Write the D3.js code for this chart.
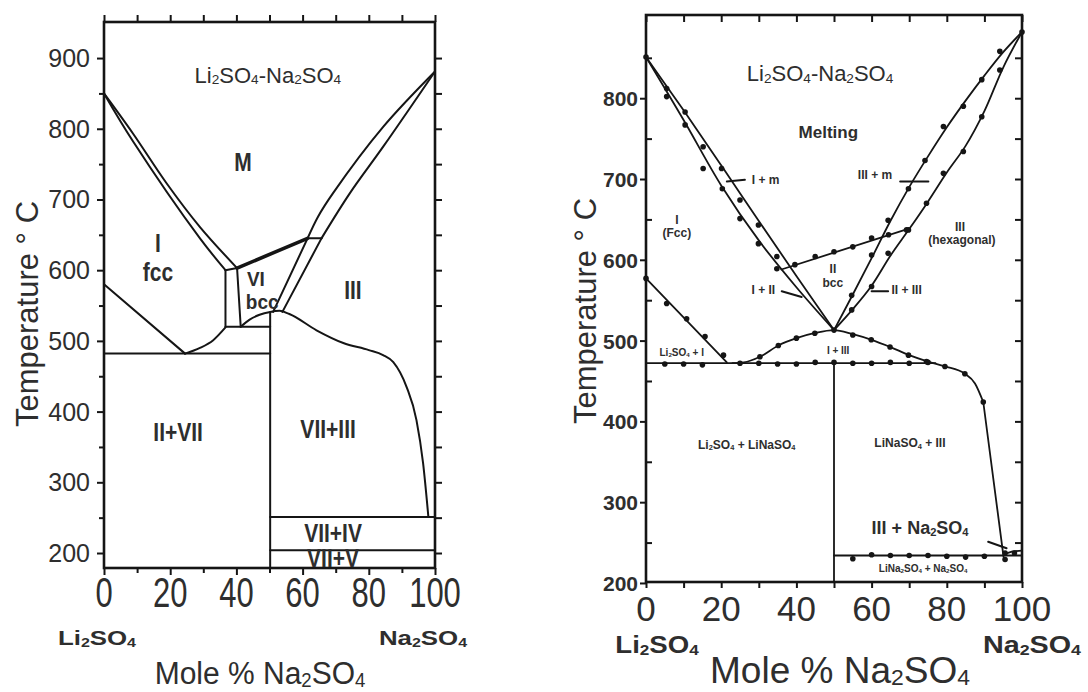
<!DOCTYPE html>
<meta charset="utf-8">
<script src="https://cdn.jsdelivr.net/npm/d3@7"></script>
<style>
  body { margin: 0; background: #fff; }
  svg text { fill: #2e2e2e; }
  .ph { fill: none; stroke: #151515; stroke-width: 2; stroke-linejoin: round; stroke-linecap: round; }
  .frame { fill: none; stroke: #151515; stroke-width: 2.6; }
  .tick line { stroke: #151515; stroke-width: 2; }
  .domain { display: none; }
</style>
<body>
<svg id="chart" width="1088" height="692"></svg>
<script>
// ticks
var xTicks = [0, 20, 40, 60, 80, 100];
var xMinor = [10, 30, 50, 70, 90];
var xTenths = [0, 10, 20, 30, 40, 50, 60, 70, 80, 90, 100];
var leftYTicks = [200, 300, 400, 500, 600, 700, 800, 900];
var leftYMinor = [250, 350, 450, 550, 650, 750, 850];
var leftYAll = [200, 250, 300, 350, 400, 450, 500, 550, 600, 650, 700, 750, 800, 850, 900];
var rightYTicks = [200, 300, 400, 500, 600, 700, 800];
var rightYMinor = [250, 350, 450, 550, 650, 750, 850];
var rightYAll = [250, 300, 350, 400, 450, 500, 550, 600, 650, 700, 750, 800, 850];

// left diagram boundaries: [mole % Na2SO4, temperature C]
var L_liqLi = [[0, 850], [8.8, 793], [18.9, 723], [29, 661], [40.2, 603]];
var L_solLi = [[0, 850], [8.8, 782], [29, 645], [36.7, 600]];
var L_boxTop = [[36.7, 600], [40.2, 603]];
var L_boxLeft = [[36.7, 600], [36.7, 520]];
var L_boxRight = [[40.2, 603], [41.3, 520]];
var L_line520 = [[36.7, 520], [50.2, 520]];
var L_bccTop = [[40.2, 603], [61.5, 645]];
var L_liqNa = [[61.5, 645], [64.7, 676], [69.2, 709], [84.4, 803], [100, 881]];
var L_liqNaLow = [[51.1, 541], [61.5, 645]];
var L_solNa = [[65.7, 645], [74.3, 709], [84.4, 775], [100, 881]];
var L_solNaLow = [[53.9, 541], [65.7, 645]];
var L_line645 = [[61.5, 645], [65.7, 645]];
var L_fccSolvus = [[0, 580], [24.5, 482]];
var L_eutectoid = [[0, 482], [50.2, 482]];
var L_domeLeft = [[24.5, 482], [29, 490], [33, 501], [36.7, 519]];
var L_domeRight = [[41.3, 520], [44, 530], [47, 537], [50.2, 541], [53, 542.5], [56, 538], [64.2, 515],
                   [72.3, 497], [80, 487], [84.3, 480], [87.4, 470], [91.4, 435], [94.4, 388], [96.4, 327], [98, 251]];
var L_compound = [[50.2, 541], [50.2, 178.8]];
var L_line251 = [[50.2, 251], [100, 251]];
var L_line204 = [[50.2, 204], [100, 204]];

var leftLabels = [["M", 42, 752], ["I", 16.3, 638], ["fcc", 16.3, 597], ["III", 75.2, 572],
                  ["II+VII", 22.4, 371], ["VII+III", 67.7, 375], ["VII+IV", 69.2, 228], ["VII+V", 69.2, 192]];
var leftSmallLabels = [["VI", 45.9, 588], ["bcc", 47.8, 555]];

// right diagram boundaries
var R_liqLi = [[0, 851], [10, 785], [20, 717], [30, 648], [40, 580], [50, 513]];
var R_solLi = [[0, 851], [10, 773], [20, 692], [30, 624], [40, 566], [50, 513]];
var R_liqNa = [[50, 513], [55, 557], [60, 602], [65, 648], [70, 690], [75, 728], [80, 764], [85, 797], [90, 828], [95, 857], [100, 882]];
var R_solNa = [[50, 513], [55, 539], [60, 568], [65, 605], [70, 638], [75, 672], [80, 708], [85, 741], [90, 784], [95, 838], [100, 882]];
var R_bcc = [[36, 588], [69.5, 638]];
var R_fccSolvus = [[0, 577], [21.5, 473]];
var R_eutectic = [[0, 472], [77, 472]];
var R_dome = [[23, 472], [26, 473], [30.3, 480], [35.2, 494], [40, 503], [45, 509.5], [50, 513], [55, 508], [60, 501],
              [65, 492], [70, 482], [75, 474], [79.5, 468], [84.8, 459], [87.5, 447], [89.7, 424]];
var R_naSolvus = [[89.7, 424], [95.1, 232]];
var R_compound = [[50, 472], [50, 201.2]];
var R_line234 = [[50, 234], [100, 234]];
var R_tail = [[95.5, 236], [97.5, 239], [100, 240]];

// measured points
var D_liqLi = [[0, 851], [5.5, 812], [10.4, 783], [15.2, 740], [20.1, 713], [25, 674], [29.9, 643], [34.8, 604]];
var D_solLi = [[5.5, 802], [10.4, 767], [15.2, 713], [20.3, 688], [25, 651], [29.9, 620], [34.8, 589]];
var D_liqNa = [[54.7, 556], [60, 606], [64.4, 649], [69.8, 688], [74.2, 723], [79.1, 765], [84.4, 790], [89.3, 823], [94.1, 858], [100, 882]];
var D_solNa = [[54.7, 538], [60, 567], [64.4, 608], [69.8, 637], [74.6, 670], [79.1, 707], [84.4, 734], [89.3, 777], [94.1, 835]];
var D_bcc = [[39.6, 594], [45, 604], [50, 610], [55, 616], [60, 627], [64.5, 631], [69.3, 637]];
var D_fcc = [[0, 577], [5.5, 546], [10.8, 527], [15.7, 505], [20.6, 482]];
var D_eutectic = [[5, 471], [10, 471], [15, 470], [25, 472], [30, 472], [35, 471], [40, 471], [45, 473], [50, 473],
                  [55, 472], [60, 472], [65, 473], [70, 472], [75, 473]];
var D_dome = [[30.3, 480], [35.2, 494], [40, 503], [44.9, 509], [50, 513], [55, 507], [59.9, 501], [64.9, 492],
              [69.8, 482], [74.6, 474], [79.5, 468], [84.8, 459], [89.7, 424]];
var D_low = [[55, 230], [60, 235], [65, 234], [70, 234], [75, 234], [80, 233], [85, 232], [90, 233], [95.5, 229], [95.5, 237], [98, 237]];

var R_leaders = [[[21.5, 697], [26.3, 699]], [[67.6, 697], [75.1, 697]], [[36.1, 561], [41.4, 554]],
                 [[60, 561], [64.4, 561]], [[91, 251], [95.9, 243]]];
var rightLabels = [["Melting", 48.5, 758, 17], ["I + m", 31.8, 699, 12], ["III + m", 60.9, 705, 12],
                   ["I", 8.2, 649, 12], ["(Fcc)", 8.2, 633, 12], ["III", 83.5, 641, 12], ["(hexagonal)", 84, 625, 12],
                   ["II", 49.7, 589, 12], ["bcc", 49.7, 571, 12], ["I + II", 31.2, 563, 12], ["II + III", 69.3, 563, 12],
                   ["Li_2SO_4 + I", 9.5, 486, 10], ["I + III", 51.1, 488, 10], ["Li_2SO_4 + LiNaSO_4", 26.8, 371, 12],
                   ["LiNaSO_4 + III", 70.2, 373, 12], ["III + Na_2SO_4", 72.9, 268, 18], ["LiNa_2SO_4 + Na_2SO_4", 73.7, 218, 10]];

var svg = d3.select("#chart");
var SANS = "'Liberation Sans', Arial, sans-serif";
var NARROW = "'Liberation Sans Narrow', 'Arial Narrow', 'Liberation Sans', sans-serif";

// text with _x subscripts
function addText(g, x, y, str, o) {
  var t = g.append("text")
    .attr("transform", "translate(" + x + "," + y + ")" + (o.rot ? " rotate(" + o.rot + ")" : "") +
          " scale(" + (o.sx || 1) + "," + (o.sy || 1) + ")")
    .attr("text-anchor", o.anchor || "middle")
    .attr("dominant-baseline", "central")
    .style("font-family", o.family || SANS)
    .style("font-size", o.size + "px")
    .style("font-weight", o.weight || "normal");
  var sh = o.size * 0.2, pend = 0;
  str.split(/(_.)/).forEach(function(p) {
    if (!p) return;
    if (p[0] == "_") {
      t.append("tspan").attr("dy", sh).style("font-size", (o.size * 0.62) + "px").text(p[1]);
      pend = -sh;
    } else {
      var s = t.append("tspan").text(p);
      if (pend) s.attr("dy", pend);
      pend = 0;
    }
  });
  return t;
}

function drawLines(g, x, y, list, curve) {
  var line = d3.line().x(function(d) { return x(d[0]); }).y(function(d) { return y(d[1]); }).curve(curve || d3.curveLinear);
  list.forEach(function(pts) {
    g.append("path").attr("class", "ph").attr("d", line(pts));
  });
}

// ---------------- left panel ----------------
var xL = d3.scaleLinear().domain([0, 100]).range([104, 435]);
var yL = d3.scaleLinear().domain([178.8, 951]).range([568, 22]);
var gl = svg.append("g");

gl.append("g").attr("transform", "translate(0,22)").call(d3.axisTop(xL).tickValues(xTenths).tickSize(7).tickFormat(""));
gl.append("g").attr("transform", "translate(0,568)").call(d3.axisBottom(xL).tickValues(xTicks).tickSize(7).tickFormat(""));
gl.append("g").attr("transform", "translate(0,568)").call(d3.axisBottom(xL).tickValues(xMinor).tickSize(5).tickFormat(""));
gl.append("g").attr("transform", "translate(104,0)").call(d3.axisLeft(yL).tickValues(leftYTicks).tickSize(7).tickFormat(""));
gl.append("g").attr("transform", "translate(104,0)").call(d3.axisLeft(yL).tickValues(leftYMinor).tickSize(5).tickFormat(""));
gl.append("g").attr("transform", "translate(435,0)").call(d3.axisRight(yL).tickValues(leftYAll).tickSize(7).tickFormat(""));
gl.append("rect").attr("class", "frame").attr("x", 104).attr("y", 22).attr("width", 331).attr("height", 546);

drawLines(gl, xL, yL, [L_boxTop, L_boxLeft, L_boxRight, L_line520, L_liqNaLow, L_solNaLow,
                       L_line645, L_fccSolvus, L_eutectoid, L_compound, L_line251, L_line204]);
drawLines(gl, xL, yL, [L_liqLi, L_solLi, L_liqNa, L_solNa], d3.curveCatmullRom);
drawLines(gl, xL, yL, [L_domeLeft, L_domeRight], d3.curveMonotoneX);
gl.append("path").attr("class", "ph").style("stroke-width", 3.6)
  .attr("d", d3.line().x(function(d) { return xL(d[0]); }).y(function(d) { return yL(d[1]); })(L_bccTop));

leftYTicks.forEach(function(v) { addText(gl, 90, yL(v), String(v), { size: 25, anchor: "end" }); });
xTicks.forEach(function(v) { addText(gl, xL(v), 592, String(v), { size: 31, family: NARROW, sy: 1.35 }); });
leftLabels.forEach(function(l) {
  addText(gl, xL(l[1]), yL(l[2]), l[0], { size: 21, family: NARROW, weight: "bold", sy: 1.2 });
});
leftSmallLabels.forEach(function(l) {
  addText(gl, xL(l[1]), yL(l[2]), l[0], { size: 19, family: NARROW, weight: "bold", sy: 1.1 });
});
addText(gl, xL(49.5), yL(876), "Li_2SO_4-Na_2SO_4", { size: 22 });
addText(gl, 27, 314, "Temperature \u00b0 C", { size: 31, rot: -90 });
addText(gl, 97, 638, "Li_2SO_4", { size: 21, weight: "bold", sx: 1.23 });
addText(gl, 423, 638, "Na_2SO_4", { size: 21, weight: "bold", sx: 1.23 });
addText(gl, 260, 673, "Mole % Na_2SO_4", { size: 30, sy: 1.07 });

// ---------------- right panel ----------------
var xR = d3.scaleLinear().domain([0, 100]).range([646, 1022]);
var yR = d3.scaleLinear().domain([201.2, 903]).range([582, 15]);
var gr = svg.append("g");

gr.append("g").attr("transform", "translate(0,15)").call(d3.axisBottom(xR).tickValues(xTenths).tickSize(7).tickFormat(""));
gr.append("g").attr("transform", "translate(0,582)").call(d3.axisBottom(xR).tickValues(xTenths).tickSize(6).tickFormat(""));
gr.append("g").attr("transform", "translate(646,0)").call(d3.axisLeft(yR).tickValues(rightYTicks).tickSize(6).tickFormat(""));
gr.append("g").attr("transform", "translate(646,0)").call(d3.axisRight(yR).tickValues(rightYMinor).tickSize(6).tickFormat(""));
gr.append("g").attr("transform", "translate(1022,0)").call(d3.axisLeft(yR).tickValues(rightYAll).tickSize(7).tickFormat(""));
gr.append("rect").attr("class", "frame").attr("x", 646).attr("y", 15).attr("width", 376).attr("height", 567);

drawLines(gr, xR, yR, [R_liqLi, R_solLi, R_liqNa, R_solNa], d3.curveCatmullRom);
drawLines(gr, xR, yR, [R_bcc, R_fccSolvus, R_eutectic, R_naSolvus, R_compound, R_line234, R_tail]);
drawLines(gr, xR, yR, [R_dome], d3.curveMonotoneX);
gr.selectAll("path.ph").style("stroke-width", 1.8);
drawLines(gr, xR, yR, R_leaders);

var allDots = [].concat(D_liqLi, D_solLi, D_liqNa, D_solNa, D_bcc, D_fcc, D_eutectic, D_dome, D_low);
gr.selectAll("circle").data(allDots).enter().append("circle")
  .attr("cx", function(d) { return xR(d[0]); })
  .attr("cy", function(d) { return yR(d[1]); })
  .attr("r", 2.8).style("fill", "#151515");

rightYTicks.forEach(function(v) { addText(gr, 638, yR(v), String(v), { size: 21, weight: "bold", anchor: "end" }); });
xTicks.forEach(function(v) { addText(gr, xR(v), 608, String(v), { size: 35, family: NARROW }); });
rightLabels.forEach(function(l) {
  addText(gr, xR(l[1]), yR(l[2]), l[0], { size: l[3], weight: "bold" });
});
addText(gr, xR(46.3), yR(831), "Li_2SO_4-Na_2SO_4", { size: 22 });
addText(gr, 585, 311, "Temperature \u00b0 C", { size: 31, rot: -90 });
addText(gr, 657, 645, "Li_2SO_4", { size: 23, weight: "bold", sx: 1.2 });
addText(gr, 1032, 645, "Na_2SO_4", { size: 23, weight: "bold", sx: 1.25 });
addText(gr, 840, 670, "Mole % Na_2SO_4", { size: 37, family: NARROW });
</script>
</body>
